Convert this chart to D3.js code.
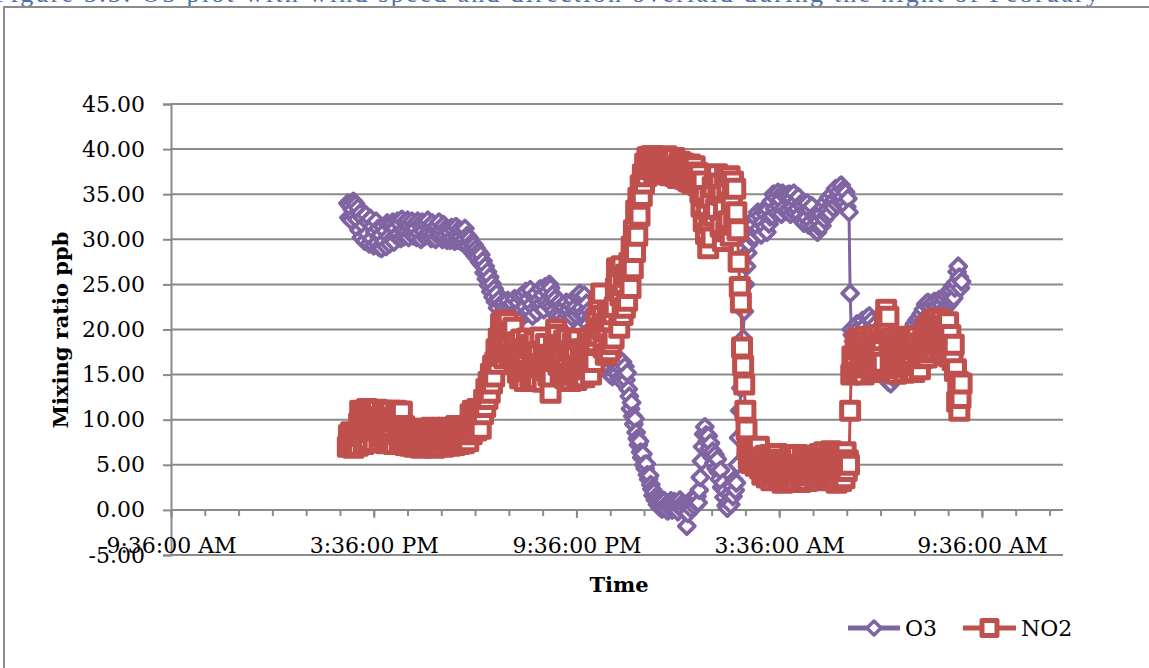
<!DOCTYPE html>
<html>
<head>
<meta charset="utf-8">
<script src="https://cdn.jsdelivr.net/npm/d3@7/dist/d3.min.js"></script>
<style>
  body { margin: 0; background: #ffffff; }
  svg { display: block; }
</style>
</head>
<body>
<svg id="chart" width="1149" height="668"></svg>
<script>
// Logger record: first sample at 14:50, one sample every 2 minutes until 09:00 next morning
const sampleStart = [14, 50];
const sampleStepMinutes = 2;

// Ozone mixing ratio, ppb (three lines per hour of record)
const o3 = [
  34.0,32.4,33.7,32.1,33.3,34.2,32.6,33.9,32.2,33.5,
  31.0,32.9,30.2,32.4,31.5,29.8,32.7,30.6,31.9,29.5,
  32.3,30.1,31.4,29.3,30.8,32.0,29.6,31.2,29.1,30.5,
  29.0,31.4,29.8,30.9,29.2,31.8,30.3,29.5,31.6,30.0,
  31.9,29.7,31.2,30.4,32.0,30.6,31.7,30.1,32.2,31.0,
  30.3,31.9,30.8,32.1,30.2,31.5,30.7,32.0,30.4,31.6,
  31.2,30.2,32.0,30.7,31.6,30.0,31.9,30.9,30.3,31.7,
  30.5,32.1,30.8,31.4,30.1,31.8,30.6,31.3,30.0,31.5,
  30.4,31.9,30.6,31.1,30.0,31.6,30.3,31.2,29.9,31.0,
  30.8,29.9,31.3,30.2,31.0,29.8,31.4,30.5,29.9,31.1,
  30.3,29.7,30.9,30.0,31.2,29.5,30.4,29.2,30.1,28.8,
  29.6,28.5,29.4,28.2,29.0,27.9,28.6,27.5,28.3,27.2,
  27.6,26.3,27.0,25.6,26.4,24.9,25.8,24.2,25.1,23.6,
  24.5,23.1,24.0,22.4,23.3,21.6,22.8,21.3,23.0,21.8,
  22.5,21.2,23.2,21.7,22.6,21.0,22.9,21.5,23.4,22.0,
  21.3,23.0,21.9,23.6,22.2,21.4,23.8,22.5,24.2,21.8,
  23.4,22.1,24.4,22.8,21.5,23.7,22.3,24.0,21.9,23.2,
  22.6,24.5,22.9,23.8,22.2,24.7,23.1,24.2,22.7,25.0,
  24.6,22.5,23.9,22.1,23.4,21.6,22.8,21.2,23.1,21.5,
  22.6,20.9,22.4,21.3,23.0,21.7,22.2,20.8,22.7,21.4,
  23.3,21.9,22.5,21.6,23.6,22.0,24.0,22.4,23.5,21.8,
  23.8,21.5,22.9,20.6,22.1,19.8,21.4,20.2,21.9,19.5,
  20.8,18.6,20.3,17.9,19.6,17.4,18.8,17.0,18.2,16.1,
  17.3,15.6,16.8,15.0,16.5,14.8,16.2,15.3,16.7,15.1,
  16.1,14.6,15.8,14.3,16.4,15.0,15.9,14.4,15.2,13.4,
  12.6,11.2,11.9,10.4,9.5,10.1,8.6,7.9,7.2,7.6,
  6.4,5.8,6.2,5.0,4.6,5.1,3.9,3.4,3.8,2.8,
  2.3,1.6,2.0,1.1,1.5,0.6,1.2,0.3,0.9,0.1,
  0.7,1.0,0.2,0.6,-0.1,0.8,0.3,1.0,0.0,0.5,
  0.9,0.2,0.6,-0.2,0.4,1.1,0.3,0.7,0.0,0.5,
  0.6,-1.8,-0.4,0.5,1.0,0.1,0.7,1.2,0.4,0.9,
  1.5,0.8,2.2,3.6,5.4,7.0,8.4,9.2,8.3,7.6,
  8.2,6.8,7.4,5.9,6.5,5.2,6.1,4.6,5.6,4.2,
  3.4,4.4,2.5,3.0,1.4,2.1,0.5,0.2,0.9,1.8,
  0.6,2.6,1.5,3.3,2.2,3.0,5.0,8.0,11.0,13.5,
  16.0,19.0,22.0,25.0,27.0,28.5,29.5,30.5,31.2,30.2,
  31.6,30.3,32.4,30.9,33.0,31.2,32.6,30.5,31.9,33.2,
  31.4,32.8,30.8,33.3,31.7,32.5,34.2,32.6,35.0,33.4,
  34.6,32.9,35.2,33.7,34.4,32.8,35.1,33.5,34.8,33.1,
  34.9,33.2,35.0,32.8,34.5,33.6,35.1,32.9,34.2,33.4,
  34.7,32.7,33.9,32.1,33.6,31.8,33.2,32.4,34.0,31.6,
  33.3,32.0,33.7,31.4,32.6,31.0,32.3,30.8,32.0,31.3,
  32.8,31.5,33.6,32.2,34.1,32.7,33.3,34.6,32.9,33.8,
  35.0,33.5,34.4,35.6,33.9,34.8,35.3,34.2,36.0,34.7,
  35.5,34.1,35.2,33.6,34.5,33.0,24.0,20.0,19.4,18.7,
  19.8,18.3,20.6,18.9,20.2,18.5,19.6,21.0,19.2,20.4,
  18.8,21.3,19.7,21.5,20.1,21.0,19.3,20.4,18.6,19.5,
  17.8,18.7,16.9,17.6,16.0,16.8,15.1,15.9,14.5,15.0,
  14.2,15.3,14.0,15.8,14.7,16.2,15.1,16.8,15.6,17.3,
  16.2,17.6,16.5,18.2,17.0,18.6,17.4,19.1,18.0,19.6,
  18.5,20.1,19.0,20.6,19.4,21.0,19.9,21.3,20.4,21.7,
  20.6,22.2,21.0,22.8,21.4,23.0,21.2,22.5,20.8,22.9,
  21.5,23.1,21.8,22.6,21.1,23.3,22.0,22.7,21.6,23.4,
  22.3,23.8,22.6,24.1,22.9,24.4,23.2,24.8,23.5,24.6,
  25.2,26.4,27.0,25.8,24.6,25.3
];

// Nitrogen dioxide mixing ratio, ppb (three lines per hour of record)
const no2 = [
  7.0,8.3,7.2,8.6,7.5,6.9,8.1,7.4,8.5,7.1,
  9.6,11.0,8.2,10.4,7.3,10.8,9.1,11.2,7.8,10.0,
  8.6,11.0,9.4,7.5,10.6,8.8,11.1,9.7,7.6,10.3,
  9.0,11.0,8.1,10.5,7.4,10.9,9.2,7.7,11.0,8.6,
  10.2,7.3,9.8,11.0,8.4,10.6,7.6,9.5,10.9,8.0,
  9.3,7.2,8.8,7.6,9.0,7.1,8.5,7.4,8.9,7.0,
  8.6,7.1,8.9,7.5,8.3,6.9,8.8,7.7,9.0,7.2,
  8.4,7.0,8.7,7.6,9.1,7.3,8.2,6.9,8.9,7.8,
  8.5,7.1,9.0,7.4,8.6,7.0,8.3,7.7,9.1,7.5,
  8.0,7.1,9.0,7.6,8.7,7.2,9.3,7.9,8.4,7.3,
  9.1,7.8,8.6,7.4,9.2,8.0,8.8,7.6,9.4,10.6,
  8.4,11.0,9.2,10.4,8.8,11.2,9.6,10.8,9.0,11.0,
  10.6,12.2,11.4,13.4,12.3,14.2,13.0,15.1,14.0,16.0,
  14.8,16.4,17.8,16.2,19.0,17.1,20.4,18.0,21.0,16.8,
  19.6,17.5,20.8,18.4,16.9,19.8,17.3,20.2,18.1,16.6,
  18.6,15.2,17.4,14.6,18.9,16.0,17.8,14.3,16.7,19.0,
  15.4,17.9,14.8,18.3,16.3,15.0,18.7,16.8,14.5,17.5,
  15.8,19.1,16.2,14.2,17.6,15.5,18.4,16.6,14.9,17.2,
  13.0,14.8,16.5,18.2,17.0,20.0,19.4,16.1,18.3,14.9,
  17.4,15.3,18.8,14.6,16.9,19.0,15.1,17.6,14.3,16.4,
  18.5,15.0,17.2,14.4,18.9,16.0,14.7,17.8,15.4,16.6,
  14.7,17.8,15.6,19.0,16.2,18.4,15.0,17.3,19.2,16.4,
  18.6,21.2,19.3,22.8,20.1,24.0,21.5,18.0,20.6,17.2,
  19.8,22.0,17.6,20.9,18.4,21.7,19.0,22.5,24.6,26.8,
  25.4,20.2,23.8,27.0,21.6,24.9,22.4,26.1,23.2,25.8,
  27.4,24.6,29.2,26.8,31.0,28.6,33.2,30.4,34.6,32.6,
  36.0,34.8,37.2,36.2,38.4,37.0,39.1,37.8,38.6,39.2,
  38.2,39.2,37.4,38.8,37.9,39.0,37.2,38.5,39.1,37.6,
  38.9,37.3,38.4,39.2,37.7,38.6,37.1,38.9,37.5,38.3,
  39.0,37.0,38.1,36.8,37.9,38.6,36.9,37.7,38.4,36.7,
  38.0,36.6,37.8,36.4,38.3,37.0,36.2,37.6,38.1,36.5,
  37.4,36.0,37.2,35.2,33.6,36.4,32.0,34.8,30.6,33.4,
  29.0,31.8,34.6,30.2,35.8,32.6,36.8,33.4,37.2,35.0,
  36.2,31.4,34.9,29.8,33.6,36.9,30.9,35.2,32.0,37.0,
  30.4,34.2,36.4,31.6,35.6,33.0,31.0,27.5,24.7,23.0,
  18.0,16.0,13.9,11.0,8.9,6.7,5.6,7.0,5.2,6.6,
  5.4,6.8,4.9,6.2,5.2,7.0,4.6,5.8,3.9,5.5,
  4.2,6.0,3.6,5.1,4.4,6.1,3.3,4.8,5.7,3.8,
  5.0,6.2,4.1,3.4,5.6,4.5,3.0,5.2,3.7,4.6,
  3.2,5.3,4.0,6.0,3.5,4.8,5.7,3.3,4.5,6.1,
  3.9,5.0,3.1,4.4,5.9,3.6,4.9,5.4,3.2,4.3,
  6.0,3.8,5.1,4.2,5.8,3.4,4.7,5.5,3.9,6.2,
  4.1,5.6,3.5,6.4,4.6,5.2,3.3,5.9,4.0,6.5,
  3.7,5.0,4.4,6.3,3.0,5.4,4.2,6.0,3.2,4.8,
  5.7,3.5,6.4,4.3,5.5,5.0,11.0,15.0,17.0,15.6,
  16.4,18.6,15.2,17.8,19.0,15.6,17.2,18.9,15.0,16.8,
  19.2,15.8,17.6,16.2,18.7,15.3,17.0,19.1,15.5,18.2,
  16.6,19.4,15.9,17.4,18.8,16.3,19.6,21.0,22.2,20.0,
  21.4,18.6,16.2,19.0,15.4,17.6,18.9,15.1,16.9,19.2,
  15.7,18.1,16.4,19.0,15.2,17.3,18.6,15.8,17.0,19.1,
  15.5,16.8,18.7,15.3,17.8,19.2,16.0,17.4,15.6,18.5,
  16.8,19.0,17.4,20.1,16.9,18.6,20.4,17.5,19.3,21.0,
  17.8,20.6,18.4,21.2,19.0,20.2,17.6,21.0,18.8,20.4,
  17.2,19.6,18.2,20.8,17.0,19.4,18.0,16.6,18.3,15.4,
  15.6,12.0,14.2,11.0,12.4,14.0
];

const yTickValues = [-5, 0, 5, 10, 15, 20, 25, 30, 35, 40, 45];
const xTickLabels = ["9:36:00 AM", "3:36:00 PM", "9:36:00 PM", "3:36:00 AM", "9:36:00 AM"];
const seriesNames = ["O3", "NO2"];
const captionText = "Figure 3.3: O3 plot with wind speed and direction overlaid during the night of February";

const COLOR_O3 = "#8064A2";
const COLOR_NO2 = "#C0504D";
const GRID = "#8a8a8a";
const FONT = "'DejaVu Serif', 'Liberation Serif', serif";

const svg = d3.select("#chart");

// Caption line above the chart (mostly cut off by the page top)
svg.append("text")
  .attr("x", -6).attr("y", 2)
  .attr("font-family", "'Liberation Serif', serif").attr("font-size", 26)
  .attr("fill", "#4F6FA8")
  .attr("textLength", 1105).attr("lengthAdjust", "spacing")
  .text(captionText);

// Chart-area frame
svg.append("rect")
  .attr("x", 4).attr("y", 7)
  .attr("width", 1200).attr("height", 720)
  .attr("fill", "#fff").attr("stroke", "#8c8c8c").attr("stroke-width", 2);

const plot = { left: 171, right: 1063, top: 104, bottom: 555 };

const xStart = new Date(2000, 0, 1, 9, 36);
const xEnd = new Date(2000, 0, 2, 12, 0);
const x = d3.scaleTime().domain([xStart, xEnd]).range([plot.left, plot.right]);
const y = d3.scaleLinear().domain([-5, 45]).range([plot.bottom, plot.top]);

// Horizontal gridlines
svg.append("g")
  .selectAll("line")
  .data(yTickValues)
  .join("line")
  .attr("x1", plot.left).attr("x2", plot.right)
  .attr("y1", d => y(d)).attr("y2", d => y(d))
  .attr("stroke", GRID).attr("stroke-width", 2);

// Y axis
const yAxis = svg.append("g")
  .attr("transform", `translate(${plot.left},0)`)
  .call(d3.axisLeft(y).tickValues(yTickValues).tickSize(8).tickPadding(18)
    .tickFormat(d => d.toFixed(2)));
yAxis.select(".domain").attr("stroke", GRID).attr("stroke-width", 2);
yAxis.selectAll(".tick line").attr("stroke", GRID).attr("stroke-width", 2);
yAxis.selectAll(".tick text")
  .attr("font-family", FONT).attr("font-size", 22).attr("fill", "#000");

// X axis on the zero line: hourly minor ticks, six-hourly labelled ticks
const minorTicks = [];
for (let t = xStart; t <= xEnd; t = d3.timeHour.offset(t, 1)) minorTicks.push(t);
const majorTicks = xTickLabels.map((_, i) => d3.timeHour.offset(xStart, 6 * i));

const xAxisG = svg.append("g")
  .attr("transform", `translate(0,${y(0)})`)
  .call(d3.axisBottom(x).tickValues(minorTicks).tickSize(6).tickFormat(""));
xAxisG.select(".domain").attr("stroke", GRID).attr("stroke-width", 2)
  .attr("d", `M${plot.left},0H${plot.right}`);
xAxisG.selectAll(".tick line").attr("stroke", GRID).attr("stroke-width", 2);

const xMajorG = svg.append("g")
  .attr("transform", `translate(0,${y(0)})`)
  .call(d3.axisBottom(x).tickValues(majorTicks).tickSize(8).tickPadding(0)
    .tickFormat((d, i) => xTickLabels[i]));
xMajorG.select(".domain").remove();
xMajorG.selectAll(".tick line").attr("stroke", GRID).attr("stroke-width", 2);
xMajorG.selectAll(".tick text")
  .attr("font-family", FONT).attr("font-size", 22).attr("fill", "#000")
  .attr("dy", null).attr("y", 43);

// Axis titles
svg.append("text")
  .attr("transform", "translate(68,330) rotate(-90)")
  .attr("text-anchor", "middle")
  .attr("font-family", FONT).attr("font-weight", "bold").attr("font-size", 21)
  .text("Mixing ratio ppb");

svg.append("text")
  .attr("x", 619).attr("y", 592)
  .attr("text-anchor", "middle")
  .attr("font-family", FONT).attr("font-weight", "bold").attr("font-size", 21)
  .text("Time");

// Series
const t0 = new Date(2000, 0, 1, sampleStart[0], sampleStart[1]);
const sampleTime = i => d3.timeMinute.offset(t0, i * sampleStepMinutes);
const diamond = r => `M0,${-r}L${r},0L0,${r}L${-r},0Z`;
const square = s => `M${-s / 2},${-s / 2}H${s / 2}V${s / 2}H${-s / 2}Z`;

const series = [
  { name: seriesNames[0], values: o3, color: COLOR_O3, marker: diamond(8), mw: 3.8 },
  { name: seriesNames[1], values: no2, color: COLOR_NO2, marker: square(17), mw: 5 }
];

const line = d3.line().x(d => x(d.t)).y(d => y(d.v));

series.forEach(s => {
  const pts = s.values.map((v, i) => ({ t: sampleTime(i), v }));
  const g = svg.append("g");
  g.append("path")
    .attr("d", line(pts))
    .attr("fill", "none").attr("stroke", s.color).attr("stroke-width", 3)
    .attr("stroke-linejoin", "round");
  g.selectAll("path.m")
    .data(pts)
    .join("path")
    .attr("class", "m")
    .attr("d", s.marker)
    .attr("transform", d => `translate(${x(d.t)},${y(d.v)})`)
    .attr("fill", "#fff").attr("stroke", s.color).attr("stroke-width", s.mw)
    .attr("stroke-linejoin", "round");
});

// Legend
const legend = svg.append("g").attr("transform", "translate(0,628)");
const legendItems = [
  { x0: 848, x1: 900, tx: 905, color: COLOR_O3, marker: diamond(7), mw: 3.5, name: seriesNames[0] },
  { x0: 963, x1: 1016, tx: 1021, color: COLOR_NO2, marker: square(15), mw: 5, name: seriesNames[1] }
];
legendItems.forEach(it => {
  legend.append("line")
    .attr("x1", it.x0).attr("x2", it.x1).attr("y1", 0).attr("y2", 0)
    .attr("stroke", it.color).attr("stroke-width", 5);
  legend.append("path")
    .attr("d", it.marker)
    .attr("transform", `translate(${(it.x0 + it.x1) / 2},0)`)
    .attr("fill", "#fff").attr("stroke", it.color).attr("stroke-width", it.mw)
    .attr("stroke-linejoin", "round");
  legend.append("text")
    .attr("x", it.tx).attr("y", 8)
    .attr("font-family", FONT).attr("font-size", 22)
    .text(it.name);
});
</script>
</body>
</html>
